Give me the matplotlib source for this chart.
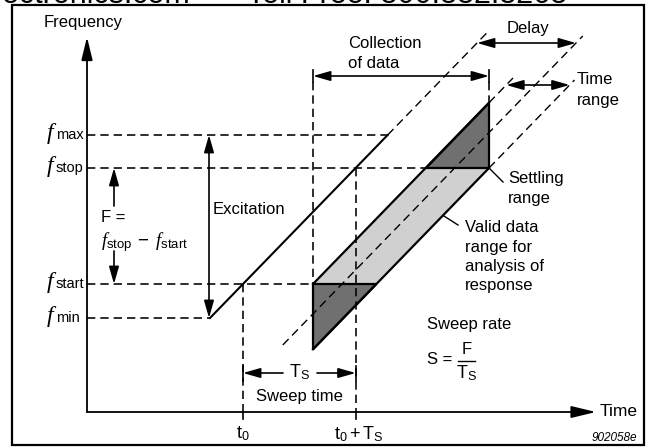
import matplotlib
matplotlib.use("Agg")
import matplotlib.pyplot as plt
from matplotlib.patches import FancyArrowPatch, ArrowStyle, Polygon, Rectangle

plt.rcParams['font.family'] = ['Liberation Sans', 'DejaVu Sans']
plt.rcParams['mathtext.fontset'] = 'custom'
plt.rcParams['mathtext.rm'] = 'Liberation Sans'
plt.rcParams['mathtext.it'] = 'Liberation Serif:italic'
plt.rcParams['mathtext.sf'] = 'Liberation Sans'
plt.rcParams['mathtext.bf'] = 'Liberation Sans:bold'
plt.rcParams['lines.scale_dashes'] = False

# ---- diagram data (canvas units, y grows downward) ----
axis_origin = [87, 412]          # time / frequency axes origin
axis_ends = [596, 37]            # arrow tips of time axis (x) and frequency axis (y)
level_names = ['max', 'stop', 'start', 'min']
level_values = [135, 168, 284, 318]   # f_max, f_stop, f_start, f_min
sweep_start = 210                 # time where excitation begins at f_min
sweep_slope = 1.03                # frequency units per time unit
band_offsets = [70, 99, 133.4]    # upper edge, response (centre), lower edge delays
dash_tops = [30, 78, 36, 80]      # where excitation / upper / centre / lower dashed extensions end
centre_bottom = 345
tick_labels = [r'$\mathrm{t}_0$', r'$\mathrm{t}_0 + \mathrm{T}_\mathrm{S}$']

F_MAX, F_STOP, F_START, F_MIN = level_values
X0, Y0 = axis_origin
U, C, L = band_offsets

def x_of(y, off=0.0):
    return sweep_start + off + (F_MIN - y) / sweep_slope

def y_of(x, off=0.0):
    return F_MIN - (x - sweep_start - off) * sweep_slope

fig = plt.figure(figsize=(6.48, 4.48), dpi=100)
ax = fig.add_axes([0, 0, 1, 1])
ax.set_xlim(0, 648)
ax.set_ylim(448, 0)
ax.axis('off')

DASH = (0, (6, 3.6))
LW = 1.15

def dashed(xs, ys, lw=LW, z=3):
    ax.plot(xs, ys, color='k', lw=lw, linestyle=DASH, zorder=z, solid_capstyle='butt',
            dash_capstyle='butt')

def solid(xs, ys, lw=1.5, z=4):
    ax.plot(xs, ys, color='k', lw=lw, zorder=z, solid_capstyle='projecting')

def arrow(x1, y1, x2, y2, both=False, hl=10.5, hw=3.0, lw=1.2):
    style = ArrowStyle('<|-|>' if both else '-|>', head_length=hl / 10, head_width=hw / 10)
    p = FancyArrowPatch((x1, y1), (x2, y2), arrowstyle=style, mutation_scale=10, lw=lw,
                        color='k', shrinkA=0, shrinkB=0, zorder=5)
    ax.add_patch(p)

# border
ax.add_patch(Rectangle((12, 5), 632, 440, fill=False, lw=1.6, ec='k', zorder=6))

# watermark text clipped at top
ax.text(190, 3.0, 'Electronics.com', fontsize=22, ha='right', va='baseline')
ax.text(247, 3.0, 'Toll Free: 800.882.8268', fontsize=22, ha='left', va='baseline')

# axes
arrow(X0, Y0, X0, axis_ends[1], hl=14, hw=3.4, lw=1.3)
arrow(X0, Y0, axis_ends[0], Y0, hl=15, hw=3.6, lw=1.3)
ax.text(83, 23, 'Frequency', fontsize=12, ha='center', va='center')
ax.text(600, 412, 'Time', fontsize=12.5, ha='left', va='center')
ax.text(637, 438, '902058e', fontsize=8.5, style='italic', ha='right', va='center')

# frequency level labels
for name, yv in zip(level_names, level_values):
    ax.text(47, yv + 4, 'f', family='Liberation Serif', style='italic', fontsize=17,
            ha='left', va='baseline')
    ax.text(56, yv + 4, name, fontsize=10.5, ha='left', va='baseline')

# key derived positions
t0 = x_of(F_START)
t1 = x_of(F_STOP)
xc1 = x_of(F_START, U)
xc2 = x_of(F_STOP, L)

# horizontal dashed levels
dashed([X0, x_of(F_MAX)], [F_MAX, F_MAX])
dashed([X0, x_of(F_STOP, U)], [F_STOP, F_STOP])
dashed([X0, xc1], [F_START, F_START])
dashed([X0, sweep_start], [F_MIN, F_MIN])

# vertical dashed lines
dashed([t0, t0], [F_START, Y0])
dashed([t1, t1], [F_STOP, Y0])
dashed([xc1, xc1], [82, F_START])
dashed([xc2, xc2], [82, y_of(xc2, U)])
solid([t0, t0], [Y0, 419], lw=1.2)
solid([t1, t1], [Y0, 419], lw=1.2)

# shaded regions
light = [(xc1, F_START), (x_of(F_START, L), F_START), (xc2, F_STOP), (x_of(F_STOP, U), F_STOP)]
dark1 = [(xc1, F_START), (x_of(F_START, L), F_START), (xc1, y_of(xc1, L))]
dark2 = [(x_of(F_STOP, U), F_STOP), (xc2, F_STOP), (xc2, y_of(xc2, U))]
ax.add_patch(Polygon(light, closed=True, fc='#d0d0d0', ec='none', zorder=1))
ax.add_patch(Polygon(dark1, closed=True, fc='#707070', ec='k', lw=1.6, zorder=2))
ax.add_patch(Polygon(dark2, closed=True, fc='#707070', ec='k', lw=1.6, zorder=2))

# excitation sweep
solid([sweep_start, x_of(F_MAX)], [F_MIN, F_MAX], lw=1.5)
dashed([x_of(F_MAX), x_of(dash_tops[0])], [F_MAX, dash_tops[0]], lw=1.0)

# band edges
solid([xc1, xc2], [F_START, y_of(xc2, U)], lw=1.6)
solid([xc1, xc2], [y_of(xc1, L), F_STOP], lw=1.6)
dashed([xc2, x_of(dash_tops[1], U)], [y_of(xc2, U), dash_tops[1]], lw=1.0)
dashed([xc2, x_of(dash_tops[3], L)], [F_STOP, dash_tops[3]], lw=1.0)
# response centre line
dashed([x_of(centre_bottom, C), x_of(dash_tops[2], C)], [centre_bottom, dash_tops[2]], lw=1.0)

# excitation arrow
arrow(209, F_MAX, 209, F_MIN, both=True)
ax.text(213, 210, 'Excitation', fontsize=12, ha='left', va='center')

# F arrows
arrow(114, 206, 114, F_STOP)
arrow(114, 251, 114, F_START)
ax.text(101, 218, 'F =', fontsize=12, ha='left', va='center')
ax.text(101, 242, r'$f_{\mathrm{stop}}\;-\;f_{\mathrm{start}}$', fontsize=13.5, ha='left', va='center')

# collection of data
arrow(xc1, 76, xc2, 76, both=True)
solid([xc1, xc1], [70, 82], lw=1.2)
solid([xc2, xc2], [70, 82], lw=1.2)
ax.text(348, 43, 'Collection', fontsize=12, ha='left', va='center')
ax.text(348, 63, 'of data', fontsize=12, ha='left', va='center')

# delay
arrow(x_of(43), 43, x_of(43, C), 43, both=True)
ax.text(528, 29, 'Delay', fontsize=12, ha='center', va='center')

# time range
arrow(x_of(85, U), 85, x_of(85, L), 85, both=True)
ax.text(577, 79, 'Time', fontsize=12, ha='left', va='center')
ax.text(577, 100, 'range', fontsize=12, ha='left', va='center')

# settling range
solid([xc2 + 1, 503], [F_STOP + 1, 182], lw=1.0)
ax.text(508, 179, 'Settling', fontsize=12, ha='left', va='center')
ax.text(508, 198, 'range', fontsize=12, ha='left', va='center')

# valid data range
solid([443, 458], [y_of(443, L), 225], lw=1.0)
for i, s in enumerate(['Valid data', 'range for', 'analysis of', 'response']):
    ax.text(465, 228 + i * 19.2, s, fontsize=12, ha='left', va='center')

# sweep time
arrow(283, 373, t0, 373)
arrow(317, 373, t1, 373)
solid([t0, t0], [366, 381], lw=1.2)
solid([t1, t1], [366, 381], lw=1.2)
ax.text(300, 372, r'$\mathrm{T}_\mathrm{S}$', fontsize=13, ha='center', va='center')
ax.text(299, 397, 'Sweep time', fontsize=12, ha='center', va='center')

# tick labels
ax.text(t0, 434, tick_labels[0], fontsize=13, ha='center', va='center')
ax.text(t1 + 3, 434, tick_labels[1], fontsize=13, ha='center', va='center')

# sweep rate
ax.text(427, 325, 'Sweep rate', fontsize=12, ha='left', va='center')
ax.text(427, 360, 'S =', fontsize=12, ha='left', va='center')
ax.text(466.5, 350, 'F', fontsize=12, ha='center', va='center')
solid([458, 475], [361, 361], lw=1.0)
ax.text(467, 373, r'$\mathrm{T}_\mathrm{S}$', fontsize=13, ha='center', va='center')

fig.savefig('out.png', dpi=100)
